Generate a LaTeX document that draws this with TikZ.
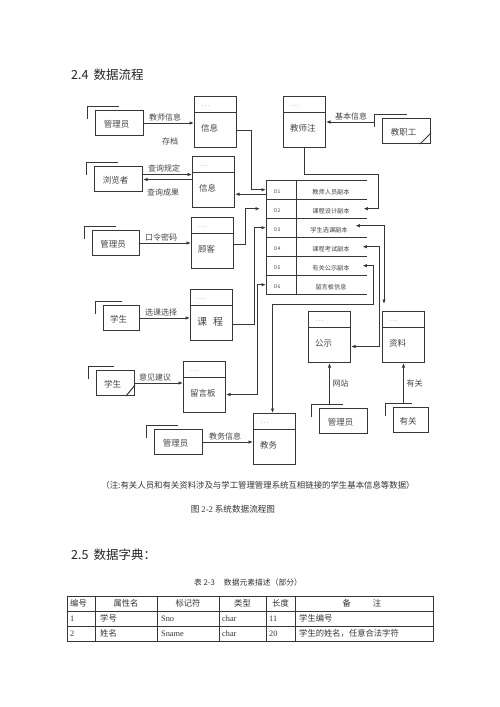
\documentclass[tikz,border=0pt]{standalone}
\usepackage{fontspec}
\setmainfont{Noto Sans CJK SC}
\newfontfamily\lat{Liberation Serif}
\usetikzlibrary{arrows.meta}
\definecolor{ln}{RGB}{55,55,55}
\definecolor{tx}{RGB}{70,70,70}
\tikzset{
  ln/.style={draw=ln, line width=1pt},
  pbox/.style={ln, rectangle, anchor=north west, minimum width=42pt, minimum height=51pt, inner sep=0pt},
  ebox/.style={ln, rectangle, anchor=north west, minimum height=25pt, inner sep=0pt},
  arr/.style={ln, -{Latex[length=4.5pt,width=3.5pt]}},
  arrb/.style={ln, {Latex[length=4.5pt,width=3.5pt]}-{Latex[length=4.5pt,width=3.5pt]}},
  lbl/.style={text=tx, font=\fontsize{8.5}{9}\selectfont, inner sep=0pt},
  albl/.style={text=tx, font=\fontsize{8}{8.5}\selectfont, inner sep=0.5pt},
  dotsmark/.style={text=tx, font=\fontsize{4}{4}\selectfont, inner sep=0pt},
  srow/.style={anchor=north west, minimum width=101pt, minimum height=19pt, inner sep=0pt},
  stxt/.style={text=tx, font=\fontsize{6.2}{6.5}\selectfont, inner sep=0pt},
  dtxt/.style={text=tx, font=\fontsize{5}{5.5}\selectfont, inner sep=0pt},
  ttxt/.style={text=black!80, font=\fontsize{8.3}{9}\selectfont, inner sep=0pt},
  tline/.style={draw=ln, line width=0.7pt},
}
\newcommand\procbox[4]{%
  \node[pbox] (#1) at (#2,#3) {};
  \draw[ln] ([yshift=-16pt]#1.north west) -- ([yshift=-16pt]#1.north east);
  \node[dotsmark, anchor=west] (#1d) at ([xshift=8pt,yshift=-11pt]#1.north west) {-\, -\, -};
  \node[lbl, anchor=west] (#1l) at ([xshift=7pt,yshift=-32.5pt]#1.north west) {#4};
}
\newcommand\entbox[6]{%
  \node[ebox, minimum width=#4pt] (#1) at (#2,#3) {};
  \node[lbl] (#1l) at ([xshift=-3pt,yshift=-1pt]#1.center) {#5};
  \draw[ln] ([xshift=-8pt,yshift=-9pt]#1.north west) |- ([xshift=#6pt,yshift=4pt]#1.north west);
}
\begin{document}
\begin{tikzpicture}[x=1pt,y=-1pt]
\useasboundingbox (0,0) rectangle (500,707);
\fill[white] (0,0) rectangle (500,707);

\node[anchor=west, text=black!85, font=\fontsize{12.5}{14}\selectfont, inner sep=0pt] (t1) at (71,75) {2.4\hspace{5pt}数据流程};

% process boxes
\procbox{info1}{194}{96}{信息}
\procbox{info2}{192}{156}{信息}
\procbox{guke}{191}{217}{顾客}
\procbox{kc}{190}{289}{\fontsize{10}{10}\selectfont 课\hspace{6pt}程}
\procbox{lyb}{183}{361}{留言板}
\procbox{jw}{253}{413}{教务}
\procbox{jsz}{283}{96}{教师注}
\procbox{gs}{308}{311}{公示}
\procbox{zl}{382}{311}{资料}

% external entities
\entbox{adm1}{95}{110}{48}{管理员}{24}
\entbox{brow}{94}{166}{48}{浏览者}{24}
\entbox{adm3}{92}{230}{47}{管理员}{24}
\entbox{stu1}{103}{305}{36}{学生}{19}
\entbox{stu2}{96}{370}{38}{学生}{18}
\entbox{adm4}{154}{429}{48}{管理员}{24}
\entbox{jzg}{382}{118}{48}{教职工}{25}
\entbox{adm5}{319}{408}{48}{管理员}{24}
\entbox{yg}{393}{407}{35}{有关}{19}
\draw[ln] ([xshift=-9pt]stu2.south east) -- ([yshift=11pt]stu2.south east);
\draw[ln] ([xshift=-11pt]jzg.south east) -- ([yshift=11pt]jzg.south east);

% data store
\node[srow] (d1) at (266,180) {};
\node[srow] (d2) at (266,199) {};
\node[srow] (d3) at (266,218) {};
\node[srow] (d4) at (266,237) {};
\node[srow] (d5) at (266,256) {};
\node[srow] (d6) at (266,275) {};
\draw[ln] (d1.north east) -- (d1.north west) -- (d6.south west) -- (d6.south east);
\draw[ln] ([xshift=30pt]d1.north west) -- ([xshift=30pt]d6.south west);
\foreach \r in {d1,d2,d3,d4,d5} {\draw[ln] (\r.south west) -- (\r.south east);}
\node[dtxt, anchor=west] (d1a) at ([xshift=8pt,yshift=-2pt]d1.west) {D1};
\node[dtxt, anchor=west] (d2a) at ([xshift=8pt,yshift=-2pt]d2.west) {D2};
\node[dtxt, anchor=west] (d3a) at ([xshift=8pt,yshift=-2pt]d3.west) {D3};
\node[dtxt, anchor=west] (d4a) at ([xshift=8pt,yshift=-2pt]d4.west) {D4};
\node[dtxt, anchor=west] (d5a) at ([xshift=8pt,yshift=-2pt]d5.west) {D5};
\node[dtxt, anchor=west] (d6a) at ([xshift=8pt,yshift=-2pt]d6.west) {D6};
\node[stxt] (d1b) at ([xshift=65pt,yshift=-2pt]d1.west) {教师人员副本};
\node[stxt] (d2b) at ([xshift=65pt,yshift=-2pt]d2.west) {课程设计副本};
\node[stxt] (d3b) at ([xshift=63pt,yshift=-2pt]d3.west) {学生选课副本};
\node[stxt] (d4b) at ([xshift=65pt,yshift=-2pt]d4.west) {课程考试副本};
\node[stxt] (d5b) at ([xshift=65pt,yshift=-2pt]d5.west) {有关公示副本};
\node[stxt] (d6b) at ([xshift=65pt,yshift=-2pt]d6.west) {留言板信息};

% entity flows
\draw[arr] (adm1.east) -- (adm1.east -| info1.west);
\node[albl, anchor=south] (l1) at (165,121.5) {教师信息};
\node[albl] (l2) at (170,141) {存档};
\coordinate (b1) at ([yshift=4.5pt]brow.east);
\coordinate (b2) at ([yshift=-0.5pt]brow.east);
\draw[arr] (b1) -- (b1 -| info2.west);
\draw[arr] (b2 -| info2.west) -- (b2);
\node[albl, anchor=south] (l3) at (164,173) {查询规定};
\node[albl] (l4) at (163,192) {查询成果};
\draw[arr] (adm3.east) -- (adm3.east -| guke.west);
\node[albl, anchor=south] (l5) at (161,241.5) {口令密码};
\draw[arr] (stu1.east) -- (stu1.east -| kc.west);
\node[albl, anchor=south] (l6) at (161,316.5) {选课选择};
\draw[arr] (stu2.east) -- (stu2.east -| lyb.west);
\node[albl, anchor=south] (l7) at (155,381.5) {意见建议};
\draw[arr] (adm4.east) -- (adm4.east -| jw.west);
\node[albl, anchor=south] (l8) at (225,440.5) {教务信息};
\coordinate (jzgc) at ([xshift=-8pt,yshift=-4pt]jzg.north west);
\draw[arr] (jzgc) -- (jzgc -| jsz.east);
\node[albl, anchor=south] (l9) at (351,121) {基本信息};
\coordinate (a5c) at ([yshift=4pt]adm5.north);
\draw[arr] (gs.south |- a5c) -- (gs.south);
\node[albl, anchor=west] (l10) at (332,383) {网站};
\coordinate (ygc) at ([yshift=4pt]yg.north);
\draw[arr] (zl.south |- ygc) -- (zl.south);
\node[albl, anchor=west] (l11) at (406,383) {有关};

% store flows
\draw[arr] ([yshift=-8.5pt]info1.east) -- ++(14,0) |- (d1.west);
\coordinate (c2) at ([yshift=-4.5pt]d1.west);
\draw[arr] (c2) -- (c2 -| info2.east);
\draw[arr] ([yshift=-1pt]guke.east) -- ++(11,0) |- ([xshift=-6pt]d2.west);
\draw[arr] ([yshift=-9.5pt]kc.east) -- ++(21,0) |- (d3.west);
\draw[arrb] (d6.west) -- ++(-9,0) |- ([yshift=-7.5pt]lyb.east);
\draw[arr] (jsz.south) -- ++(0,26) -- ++(74,0) |- ([xshift=-4pt]d2.east);
\draw[arrb] ([xshift=-12pt,yshift=2pt]d3.east) -| ([xshift=2pt,yshift=7pt]zl.north west);
\draw[arrb] ([xshift=-5pt]d4.east) -- ++(17,0) |- ([yshift=-9.5pt]gs.east);
\draw[arrb] ([xshift=-5pt]d5.east) -- ++(11,0) -- ++(0,38.5) -| ([xshift=-2pt]jw.north);

% captions
\node[text=black!80, font=\fontsize{8.4}{9}\selectfont, inner sep=0pt] (note) at (258,485) {（注:有关人员和有关资料涉及与学工管理管理系统互相链接的学生基本信息等数据）};
\node[text=black!80, font=\fontsize{8.6}{9}\selectfont, inner sep=0pt] (cap) at (233,509) {图 {\lat 2-2} 系统数据流程图};
\node[anchor=west, text=black!85, font=\fontsize{12.5}{14}\selectfont, inner sep=0pt] (t2) at (71,555) {2.5\hspace{5pt}数据字典：};
\node[text=black!80, font=\fontsize{7.8}{8.5}\selectfont, inner sep=0pt] (tcap) at (248,583) {表 2-3\hspace{9pt}数据元素描述（部分）};

% table
\draw[tline] (67,596) rectangle (433,641);
\foreach \yy in {611,626} {\draw[tline] (67,\yy) -- (433,\yy);}
\foreach \xx in {95,157,219,266,295} {\draw[tline] (\xx,596) -- (\xx,641);}
\node[ttxt, anchor=west] (h1) at (70,603.5) {编号};
\node[ttxt] (h2) at (126,603.5) {属性名};
\node[ttxt] (h3) at (188,603.5) {标记符};
\node[ttxt] (h4) at (242.5,603.5) {类型};
\node[ttxt] (h5) at (280.5,603.5) {长度};
\node[ttxt] (h6) at (362,603.5) {备\hspace{22pt}注};
\node[ttxt, anchor=west] (r11) at (70,618.5) {\lat 1};
\node[ttxt, anchor=west] (r12) at (100,618.5) {学号};
\node[ttxt, anchor=west] (r13) at (161,618.5) {\lat Sno};
\node[ttxt, anchor=west] (r14) at (222,618.5) {\lat char};
\node[ttxt, anchor=west] (r15) at (269,618.5) {\lat 11};
\node[ttxt, anchor=west] (r16) at (299,618.5) {学生编号};
\node[ttxt, anchor=west] (r21) at (70,633.5) {\lat 2};
\node[ttxt, anchor=west] (r22) at (100,633.5) {姓名};
\node[ttxt, anchor=west] (r23) at (161,633.5) {\lat Sname};
\node[ttxt, anchor=west] (r24) at (222,633.5) {\lat char};
\node[ttxt, anchor=west] (r25) at (269,633.5) {\lat 20};
\node[ttxt, anchor=west] (r26) at (299,633.5) {学生的姓名，任意合法字符};
\end{tikzpicture}
\end{document}
